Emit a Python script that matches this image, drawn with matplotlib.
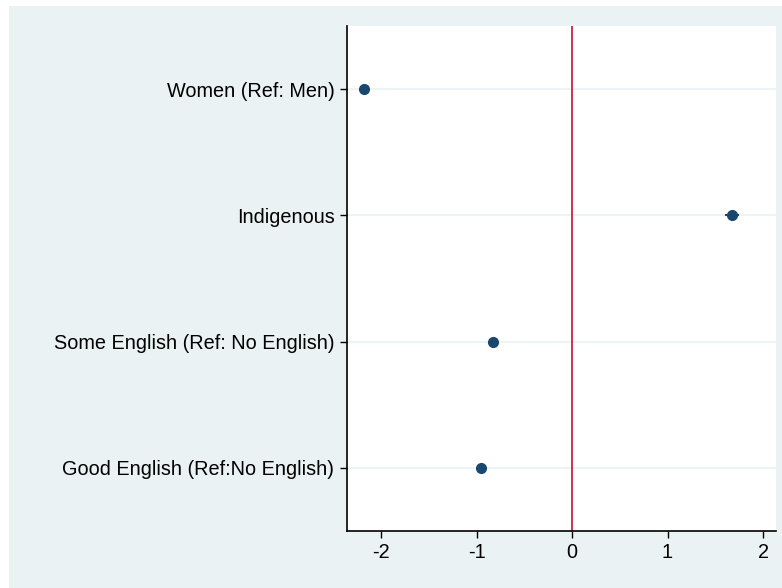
import matplotlib
matplotlib.use("Agg")
import matplotlib.pyplot as plt
from matplotlib.patches import Rectangle

labels = ['Women (Ref: Men)', 'Indigenous', 'Some English (Ref: No English)',
          'Good English (Ref:No English)']
coefs = [-2.18, 1.675, -0.83, -0.95]
ci_low = [-2.21, 1.60, -0.86, -0.98]
ci_high = [-2.15, 1.75, -0.80, -0.92]
xticks = [-2, -1, 0, 1, 2]

plt.rcParams['font.family'] = ['Liberation Sans', 'DejaVu Sans']

fig = plt.figure(figsize=(7.82, 5.88), dpi=100, facecolor='white')
bg = Rectangle((9 / 782, 0), 1, 1 - 6 / 588, transform=fig.transFigure,
               facecolor='#eaf2f3', edgecolor='none', zorder=-10)
fig.add_artist(bg)
ax = fig.add_axes([347 / 782, 57 / 588, (776 - 347) / 782, (531 - 26) / 588])
ax.set_zorder(1)
ax.set_facecolor('white')

ypos = list(range(1, len(labels) + 1))
for y in ypos:
    ax.axhline(y, color='#eaf2f3', linewidth=1.3, zorder=1)
ax.axvline(0, color='#c8102e', linewidth=1.2, zorder=2)
ax.hlines(ypos, ci_low, ci_high, color='#1a476f', linewidth=1.5, zorder=3)
ax.plot(coefs, ypos, 'o', color='#1a476f', markersize=7, zorder=4)

ax.set_xlim(-2.356, 2.136)
ax.set_ylim(4.5, 0.5)
ax.set_yticks(ypos)
ax.set_yticklabels(labels, fontsize=14.3)
ax.set_xticks(xticks)
ax.set_xticklabels([str(t) for t in xticks], fontsize=14.3)
ax.tick_params(axis='both', direction='out', length=5, width=1, color='black', pad=4)

for side in ['top', 'right']:
    ax.spines[side].set_visible(False)
for side in ['left', 'bottom']:
    ax.spines[side].set_linewidth(1.2)

fig.savefig('out.png', dpi=100, facecolor=fig.get_facecolor())
